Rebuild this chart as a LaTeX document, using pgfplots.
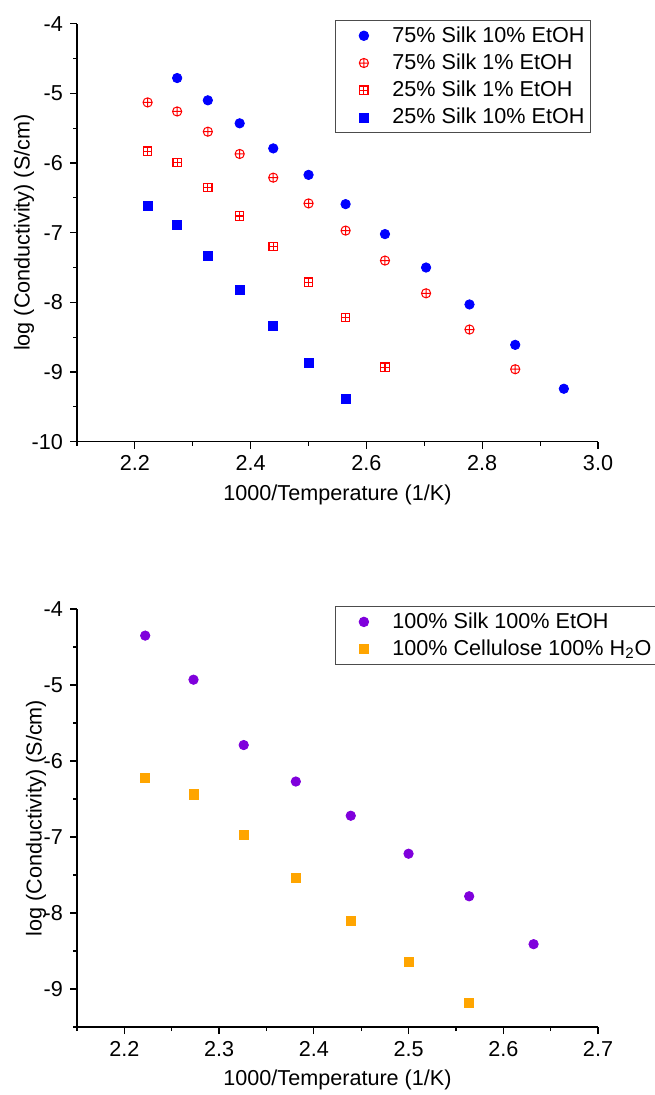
\documentclass[border=0pt]{standalone}
\usepackage{fontspec}
\setmainfont{Liberation Sans}
\usepackage{pgfplots}
\pgfplotsset{compat=1.18}
\usetikzlibrary{plotmarks}

\definecolor{sblue}{RGB}{0,0,255}
\definecolor{sred}{RGB}{255,0,0}
\definecolor{spurple}{RGB}{127,0,220}
\definecolor{sorange}{RGB}{255,165,0}

% square with a cross inside
\pgfdeclareplotmark{boxplus}{%
  \pgfpathrectangle{\pgfpoint{-\pgfplotmarksize}{-\pgfplotmarksize}}{\pgfpoint{2\pgfplotmarksize}{2\pgfplotmarksize}}%
  \pgfusepath{stroke}%
  \pgfpathmoveto{\pgfpoint{-\pgfplotmarksize}{0pt}}\pgfpathlineto{\pgfpoint{\pgfplotmarksize}{0pt}}%
  \pgfpathmoveto{\pgfpoint{0pt}{-\pgfplotmarksize}}\pgfpathlineto{\pgfpoint{0pt}{\pgfplotmarksize}}%
  \pgfusepath{stroke}}

\pgfplotsset{
  conduct/.style={
    width=260.5pt, height=209pt, scale only axis,
    axis x line*=bottom, axis y line*=left,
    axis line style={-, line width=0.75pt},
    tick align=outside,
    major tick length=3.5pt, minor tick length=2pt,
    every tick/.style={black, line width=0.6pt},
    font=\fontsize{10.8}{13}\selectfont,
    tick label style={font=\fontsize{10.8}{13}\selectfont},
    /pgf/number format/assume math mode=true,
    ylabel={log (Conductivity) (S/cm)},
    xlabel={1000/Temperature (1/K)},
    ylabel style={yshift=-8pt},
    ytick={-10,-9,...,-4},
    minor ytick={-9.5,-8.5,...,-4.5},
    x tick label style={/pgf/number format/.cd, fixed, fixed zerofill, precision=1},
    clip=false,
    legend cell align=left,
    legend image code/.code={\path (0pt,0pt) (25pt,0pt); \draw[##1] plot coordinates {(13pt,0pt)};},
    legend style={anchor=north west, draw=black!70, line width=0.5pt,
      inner sep=1pt, row sep=0.3pt, font=\fontsize{10.8}{13}\selectfont},
  }
}

\begin{document}
\begin{tikzpicture}
\useasboundingbox (-38.5pt,-326.65pt) rectangle (288.5pt,220.85pt);

\begin{axis}[conduct,
  xmin=2.1, xmax=3.0, ymin=-10, ymax=-4,
  xtick={2.2,2.4,...,3.0},
  minor xtick={2.1,2.3,...,2.9},
  legend style={at={(0.495,1.009)}},
]
\addplot[only marks, mark=*, mark size=2.35pt, color=sblue]
  coordinates {(2.273,-4.78)(2.326,-5.10)(2.381,-5.43)(2.439,-5.79)(2.5,-6.17)(2.564,-6.59)(2.632,-7.02)(2.703,-7.50)(2.778,-8.03)(2.857,-8.61)(2.941,-9.24)};
\addplot[only marks, mark=oplus, mark size=2.3pt, color=sred, mark options={draw=sred, line width=0.5pt}]
  coordinates {(2.222,-5.13)(2.273,-5.26)(2.326,-5.55)(2.381,-5.87)(2.439,-6.21)(2.5,-6.58)(2.564,-6.97)(2.632,-7.40)(2.703,-7.87)(2.778,-8.39)(2.857,-8.96)};
\addplot[only marks, mark=boxplus, mark size=2.1pt, color=sred, mark options={draw=sred, line width=0.6pt}]
  coordinates {(2.222,-5.83)(2.273,-5.99)(2.326,-6.35)(2.381,-6.76)(2.439,-7.20)(2.5,-7.71)(2.564,-8.22)(2.632,-8.93)};
\addplot[only marks, mark=square*, mark size=2.25pt, color=sblue]
  coordinates {(2.222,-6.62)(2.273,-6.89)(2.326,-7.33)(2.381,-7.82)(2.439,-8.34)(2.5,-8.87)(2.564,-9.39)};
\legend{75\% Silk 10\% EtOH, 75\% Silk 1\% EtOH, 25\% Silk 1\% EtOH, 25\% Silk 10\% EtOH}
\end{axis}

\begin{axis}[conduct,
  at={(0pt,-292.65pt)},
  xmin=2.15, xmax=2.7, ymin=-9.5, ymax=-4,
  xtick={2.2,2.3,...,2.7},
  minor xtick={2.15,2.25,...,2.65},
  legend style={at={(0.495,1.007)}},
]
\addplot[only marks, mark=*, mark size=2.35pt, color=spurple]
  coordinates {(2.222,-4.35)(2.273,-4.93)(2.326,-5.79)(2.381,-6.27)(2.439,-6.72)(2.5,-7.22)(2.564,-7.78)(2.632,-8.41)};
\addplot[only marks, mark=square*, mark size=2.3pt, color=sorange]
  coordinates {(2.222,-6.22)(2.273,-6.44)(2.326,-6.97)(2.381,-7.54)(2.439,-8.10)(2.5,-8.64)(2.564,-9.18)};
\legend{100\% Silk 100\% EtOH, 100\% Cellulose 100\% H\textsubscript{2}O}
\end{axis}
\end{tikzpicture}
\end{document}
